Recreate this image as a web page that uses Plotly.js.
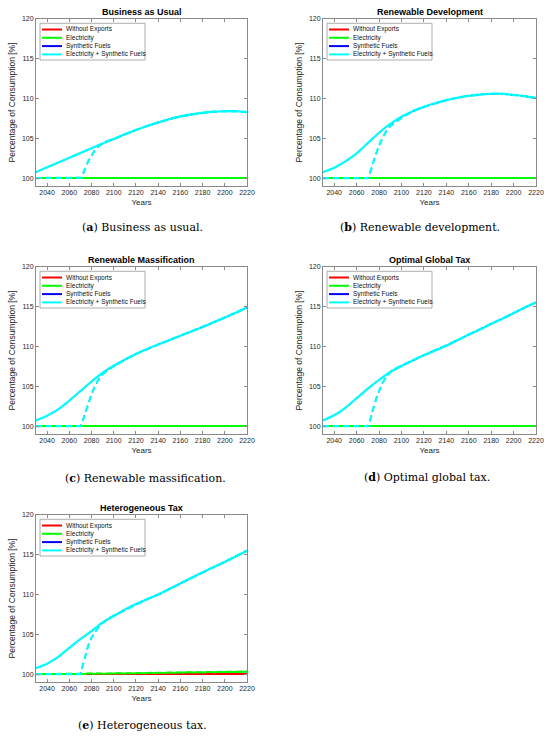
<!DOCTYPE html>
<html><head><meta charset="utf-8">
<script src="https://cdn.plot.ly/plotly-3.0.1.min.js"></script>
<style>html,body{margin:0;padding:0;background:#fff}</style>
</head><body>
<div id="chart" style="width:550px;height:736px"></div>
<script>
// ---------- DATA ----------
const years = [2030,2040,2050,2060,2070,2080,2090,2100,2110,2120,2130,2140,2150,2160,2170,2180,2190,2200,2210,2220];
const yearsDash = [2030,2040,2050,2060,2070,2071,2072,2074,2076,2078,2080,2083,2086,2090,2095,2100,2105,2110,2120,2130,2140,2150,2160,2170,2180,2190,2200,2210,2220];

const seriesNames = ['Without Exports','Electricity','Synthetic Fuels','Electricity + Synthetic Fuels'];
const seriesColors = ['#ff0000','#00ff00','#0000ff','#00ffff'];
const panelTitles = ['Business as Usual','Renewable Development','Renewable Massification','Optimal Global Tax','Heterogeneous Tax'];
const panelLetters = ['a','b','c','d','e'];
const panelCaptions = ['Business as usual.','Renewable development.','Renewable massification.','Optimal global tax.','Heterogeneous tax.'];
const xTicks = [2040,2060,2080,2100,2120,2140,2160,2180,2200,2220];
const yTicks = [100,105,110,115,120];

const flat = [100,100,100,100,100,100,100,100,100,100,100,100,100,100,100,100,100,100,100,100];
const flatDash = [100,100,100,100,100,100,100,100,100,100,100,100,100,100,100,100,100,100,100,100,100,100,100,100,100,100,100,100,100];

// Business as usual
const bauMix = [100.75,101.35,101.95,102.55,103.15,103.75,104.35,104.9,105.5,106.05,106.55,107.0,107.4,107.75,108.0,108.2,108.35,108.4,108.4,108.3];
const bauMixDash = [100,100,100,100,100,100.05,100.4,101.2,101.8,102.35,102.85,103.5,103.95,104.35,104.7,104.9,105.2,105.5,106.05,106.55,107.0,107.4,107.75,108.0,108.2,108.35,108.4,108.4,108.3];
// Renewable development
const rdMix = [100.75,101.3,102.1,103.1,104.4,105.7,106.8,107.7,108.4,108.95,109.4,109.8,110.1,110.35,110.5,110.6,110.6,110.45,110.3,110.05];
const rdMixDash = [100,100,100,100,100,100.2,100.6,101.6,102.5,103.4,104.1,105.0,105.8,106.55,107.1,107.55,108.0,108.4,108.95,109.4,109.8,110.1,110.35,110.5,110.6,110.6,110.45,110.3,110.05];
// Renewable massification
const rmMix = [100.7,101.3,102.1,103.2,104.4,105.6,106.7,107.6,108.35,109.05,109.7,110.25,110.8,111.35,111.9,112.45,113.05,113.65,114.25,114.9];
const rmMixDash = [100,100,100,100,100,100.3,100.6,101.5,102.4,103.3,104.0,105.0,105.8,106.5,107.1,107.5,107.95,108.35,109.05,109.7,110.25,110.8,111.35,111.9,112.45,113.05,113.65,114.25,114.9];
// Optimal global tax
const ogMix = [100.7,101.35,102.3,103.5,104.7,105.8,106.8,107.55,108.25,108.9,109.5,110.1,110.8,111.5,112.15,112.85,113.5,114.2,114.9,115.55];
const ogMixDash = [100,100,100,100,100,100.3,100.7,101.8,102.8,103.7,104.4,105.4,106.1,106.8,107.25,107.55,107.9,108.25,108.9,109.5,110.1,110.8,111.5,112.15,112.85,113.5,114.2,114.9,115.55];
// Heterogeneous tax
const htMix = [100.75,101.3,102.15,103.3,104.4,105.4,106.5,107.3,108.1,108.8,109.4,110.0,110.7,111.4,112.1,112.8,113.45,114.1,114.8,115.5];
const htMixDash = [100,100,100,100,100,100.5,101.1,102.1,103.1,104.0,104.6,105.2,105.8,106.4,106.95,107.35,107.7,108.1,108.8,109.4,110.0,110.7,111.4,112.1,112.8,113.45,114.1,114.8,115.5];
const htElec = [100,100,100,100,100.01,100.03,100.04,100.06,100.07,100.09,100.11,100.13,100.15,100.17,100.19,100.21,100.23,100.25,100.27,100.29];
const htElecDash = [100,100,100,100,100,100.01,100.01,100.02,100.02,100.03,100.03,100.04,100.05,100.06,100.07,100.08,100.09,100.1,100.12,100.14,100.16,100.18,100.2,100.22,100.24,100.26,100.28,100.3,100.32];

// per panel: [without, electricity, synthetic, elec+synth] solid and dashed
const panelSolid = [
  [flat, flat, bauMix, bauMix],
  [flat, flat, rdMix, rdMix],
  [flat, flat, rmMix, rmMix],
  [flat, flat, ogMix, ogMix],
  [flat, htElec, htMix, htMix]
];
const panelDash = [
  [flatDash, flatDash, bauMixDash, bauMixDash],
  [flatDash, flatDash, rdMixDash, rdMixDash],
  [flatDash, flatDash, rmMixDash, rmMixDash],
  [flatDash, flatDash, ogMixDash, ogMixDash],
  [flatDash, htElecDash, htMixDash, htMixDash]
];

// ---------- LAYOUT ----------
const W = 550, H = 736;
const boxes = [[36,247,19,186],[323,536,19,186],[36,247,267,434],[323,536,267,434],[36,247,515,682]];
const titleY = [12.3,12.3,260,260,508.3];
const captionPos = [[142,227.7],[420,227.7],[145,478],[427,477.5],[142,725]];
const lineWidths = [2, 2, 1.2, 2.2];
const fx = p => p / W;
const fy = p => 1 - p / H;

const AX = '#8a8a8a', TXT = '#262626';
const FONT = 'Liberation Sans, Arial, Helvetica, sans-serif';

const data = [];
const layout = {
  width: W, height: H,
  margin: {l:0, r:0, t:0, b:0},
  paper_bgcolor: '#fff', plot_bgcolor: '#fff',
  showlegend: false,
  font: {family: FONT, color: TXT},
  annotations: [], shapes: []
};

boxes.forEach((b, i) => {
  const s = i === 0 ? '' : String(i + 1);
  panelSolid[i].forEach((ys, k) => {
    data.push({x: years, y: ys, xaxis: 'x' + s, yaxis: 'y' + s, type: 'scatter', mode: 'lines',
      name: seriesNames[k], line: {color: seriesColors[k], width: lineWidths[k], shape: 'spline', smoothing: 0.6}});
  });
  panelDash[i].forEach((ys, k) => {
    data.push({x: yearsDash, y: ys, xaxis: 'x' + s, yaxis: 'y' + s, type: 'scatter', mode: 'lines',
      name: seriesNames[k] + ' (dashed)', line: {color: seriesColors[k], width: lineWidths[k], dash: '6px,4px'}});
  });

  layout['xaxis' + s] = {
    domain: [fx(b[0]), fx(b[1])], anchor: 'y' + s, range: [2030, 2220],
    tickmode: 'array', tickvals: xTicks, ticks: 'inside', ticklen: 3, tickcolor: AX,
    showline: true, linecolor: AX, linewidth: 1, mirror: 'ticks', showgrid: false, zeroline: false,
    tickfont: {size: 7, color: TXT, family: FONT},
    title: {text: 'Years', font: {size: 8, color: TXT, family: FONT}, standoff: 3}
  };
  layout['yaxis' + s] = {
    domain: [fy(b[3]), fy(b[2])], anchor: 'x' + s, range: [99, 120],
    tickmode: 'array', tickvals: yTicks, ticks: 'inside', ticklen: 3, tickcolor: AX,
    showline: true, linecolor: AX, linewidth: 1, mirror: 'ticks', showgrid: false, zeroline: false,
    tickfont: {size: 7, color: TXT, family: FONT},
    title: {text: 'Percentage of Consumption [%]', font: {size: 8.5, color: TXT, family: FONT}, standoff: 4}
  };

  layout.annotations.push({xref: 'paper', yref: 'paper', x: fx((b[0] + b[1]) / 2), y: fy(titleY[i]),
    xanchor: 'center', yanchor: 'middle', showarrow: false,
    text: '<b>' + panelTitles[i] + '</b>', font: {size: 9, color: '#000', family: FONT}});
  layout.annotations.push({xref: 'paper', yref: 'paper', x: fx(captionPos[i][0]), y: fy(captionPos[i][1]),
    xanchor: 'center', yanchor: 'middle', showarrow: false,
    text: '(<b>' + panelLetters[i] + '</b>) ' + panelCaptions[i], font: {size: 11, color: '#000', family: 'DejaVu Serif, serif'}});

  layout.shapes.push({type: 'rect', xref: 'paper', yref: 'paper',
    x0: fx(b[0] + 4), x1: fx(b[0] + 109), y0: fy(b[2] + 41), y1: fy(b[2] + 4.3),
    line: {color: '#9a9a9a', width: 0.8}, fillcolor: '#fff', layer: 'above'});
  seriesNames.forEach((nm, k) => {
    const ry = b[2] + 10.5 + k * 8.3;
    layout.shapes.push({type: 'line', xref: 'paper', yref: 'paper',
      x0: fx(b[0] + 6), x1: fx(b[0] + 26), y0: fy(ry), y1: fy(ry),
      line: {color: seriesColors[k], width: 2}, layer: 'above'});
    layout.annotations.push({xref: 'paper', yref: 'paper', x: fx(b[0] + 27.5), y: fy(ry),
      xanchor: 'left', yanchor: 'middle', showarrow: false, text: nm,
      font: {size: 6.5, color: '#111', family: FONT}});
  });
});

Plotly.newPlot('chart', data, layout, {staticPlot: true, displayModeBar: false});
</script>
</body></html>
